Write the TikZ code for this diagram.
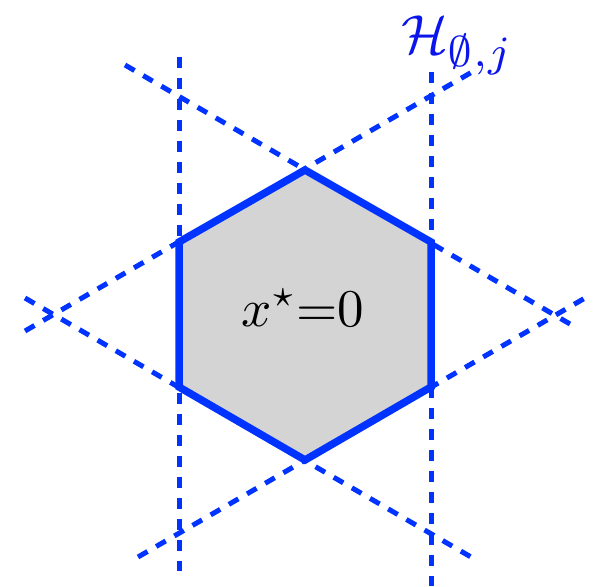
\documentclass[tikz,border=0pt]{standalone}
\usepackage{graphicx}
\usepackage{amsmath,amssymb}
\definecolor{lineblue}{RGB}{0,51,255}
\definecolor{labelblue}{RGB}{10,20,235}
\definecolor{hexfill}{RGB}{212,212,212}
\begin{document}
\begin{tikzpicture}[x=1pt,y=-1pt,
  hyper/.style={draw=lineblue,line width=5pt,dash pattern=on 11pt off 10pt},
  hexedge/.style={draw=lineblue,line width=7.5pt,line join=miter,fill=hexfill}]
\useasboundingbox (0,0) rectangle (593,586);
% hexagon vertices
\coordinate (T) at (305,170);
\coordinate (UR) at (431,242);
\coordinate (LR) at (431,387);
\coordinate (B) at (305,460);
\coordinate (LL) at (179,387);
\coordinate (UL) at (179,242);
\filldraw[hexedge] (T) -- (UR) -- (LR) -- (B) -- (LL) -- (UL) -- cycle;
% line endpoints
\coordinate (v1a) at (179,57);  \coordinate (v1b) at (179,571);
\coordinate (v2a) at (431,72);  \coordinate (v2b) at (431,586);
\coordinate (d1a) at (125,65);  \coordinate (d1b) at (570,324);
\coordinate (d2a) at (25,331);  \coordinate (d2b) at (472,72);
\coordinate (d3a) at (25,298);  \coordinate (d3b) at (471,557);
\coordinate (d4a) at (138,557); \coordinate (d4b) at (585,298);
\draw[hyper] (v1a) -- (v1b);
\draw[hyper] (v2a) -- (v2b);
\draw[hyper] (d1a) -- (d1b);
\draw[hyper] (d2a) -- (d2b);
\draw[hyper] (d3a) -- (d3b);
\draw[hyper] (d4a) -- (d4b);
\node[anchor=base,inner sep=0pt] (xs) at (303,326) {\scalebox{5.3}{$x^{\star}{=}0$}};
\node[anchor=base west,inner sep=0pt,text=labelblue] (H) at (401,53) {\scalebox{5.5}{$\mathcal{H}_{\scalebox{1.12}{$\scriptstyle\emptyset,j$}}$}};
\end{tikzpicture}
\end{document}
